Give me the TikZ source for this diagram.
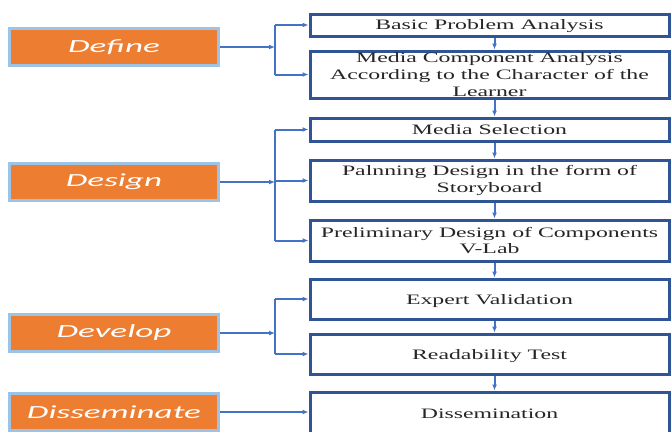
\documentclass[tikz,border=0pt]{standalone}
\usepackage{fontspec}
\usetikzlibrary{arrows.meta}
\newfontfamily\lblfont[FakeStretch=1.9]{Carlito}
\newfontfamily\boxfont[FakeStretch=1.65]{Liberation Serif}
\definecolor{orng}{HTML}{ED7D31}
\definecolor{lblue}{HTML}{9DC3E6}
\definecolor{dblue}{HTML}{2F5597}
\definecolor{cblue}{HTML}{4472C4}
\tikzset{
  phase/.style={draw=lblue, line width=3pt, fill=orng, minimum width=209pt, minimum height=37pt,
    inner sep=0pt, font=\lblfont\itshape\fontsize{18.5}{20}\selectfont, text=white},
  stepbox/.style={draw=dblue, line width=3pt, fill=white, minimum width=359pt, inner sep=0pt,
    align=center, font=\boxfont\fontsize{14.4}{16.8}\selectfont, text=black!85},
  oneline/.style={text depth=0pt},
  conn/.style={draw=cblue, line width=2pt},
  arr/.style={conn, -{Latex[length=6pt,width=5pt]}},
}
\begin{document}
\begin{tikzpicture}[x=1pt,y=-1pt]
\useasboundingbox (0,0) rectangle (671,431);
\clip (0,0) rectangle (671,431);
% right boxes
\node[stepbox, oneline, minimum height=22pt] (b1) at (489.5,25) {Basic Problem Analysis};
\node[stepbox, minimum height=47pt] (b2) at (489.5,74.5) {Media Component Analysis\\According to the Character of the\\Learner};
\node[stepbox, oneline, minimum height=23pt] (b3) at (489.5,129.5) {Media Selection};
\node[stepbox, minimum height=41pt] (b4) at (489.5,180.5) {Palnning Design in the form of\\Storyboard};
\node[stepbox, minimum height=41pt] (b5) at (489.5,240.5) {Preliminary Design of Components\\V-Lab};
\node[stepbox, oneline, minimum height=40pt] (b6) at (489.5,299) {Expert Validation};
\node[stepbox, oneline, minimum height=40pt] (b7) at (489.5,354) {Readability Test};
\node[stepbox, oneline, minimum height=44pt] (b8) at (489.5,414) {Dissemination};
% phases
\node[phase] (p1) at (114,47) {Define};
\node[phase] (p2) at (114,182) {Design};
\node[phase] (p3) at (114,333) {Develop};
\node[phase] (p4) at (114,412) {Disseminate};
% vertical arrows
\foreach \a/\b in {b1/b2,b2/b3,b3/b4,b4/b5,b5/b6,b6/b7,b7/b8}
  \draw[arr] ([xshift=5pt]\a.south) -- ([xshift=5pt]\b.north);
% junctions
\coordinate (j1) at (275,47);
\coordinate (j2) at (275,182);
\coordinate (j3) at (275,333);
\draw[arr] (p1.east) -- (j1);
\draw[conn] (j1 |- b1.west) -- (j1 |- b2.west);
\draw[arr] (j1 |- b1.west) -- (b1.west);
\draw[arr] (j1 |- b2.west) -- (b2.west);
\draw[arr] (p2.east) -- (j2);
\draw[conn] (j2 |- b3.west) -- (j2 |- b5.west);
\draw[arr] (j2 |- b3.west) -- (b3.west);
\draw[arr] (j2 |- b4.west) -- (b4.west);
\draw[arr] (j2 |- b5.west) -- (b5.west);
\draw[arr] (p3.east) -- (j3);
\draw[conn] (j3 |- b6.west) -- (j3 |- b7.west);
\draw[arr] (j3 |- b6.west) -- (b6.west);
\draw[arr] (j3 |- b7.west) -- (b7.west);
\draw[arr] (p4.east) -- (p4.east -| b8.west);
\end{tikzpicture}
\end{document}
